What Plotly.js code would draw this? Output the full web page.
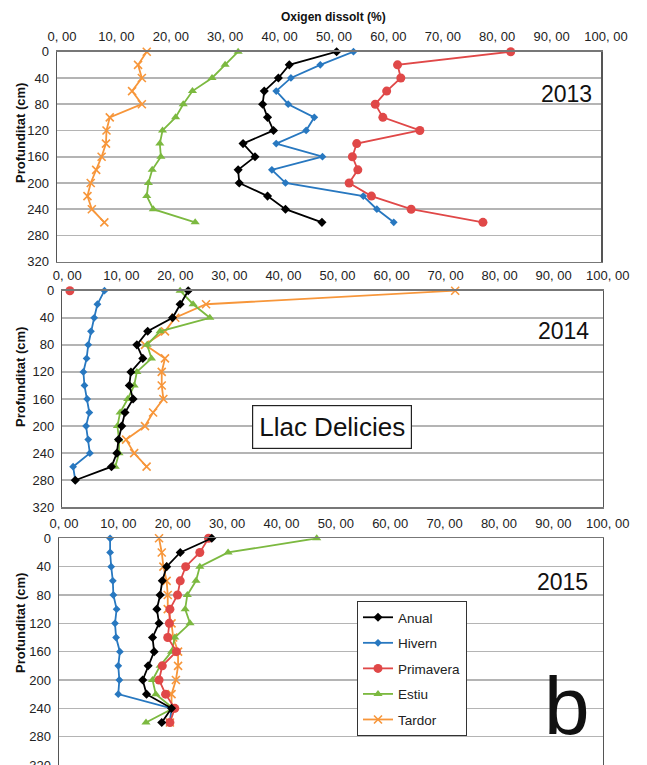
<!DOCTYPE html>
<html><head><meta charset="utf-8">
<script src="https://cdn.plot.ly/plotly-3.0.1.min.js"></script>
<style>html,body{margin:0;padding:0;background:#fff}</style>
</head><body><div id="chart" style="width:647px;height:765px"></div>
<script>
// ---------- DATA ----------
const seriesNames = ["Anual", "Hivern", "Primavera", "Estiu", "Tardor"];
const depth14 = [0,20,40,60,80,100,120,140,160,180,200,220,240,260];
const depth15 = [0,20,40,60,80,100,120,140,160,180,200,220,240,260,280];
const depth1 = [0];
const xTickVals = [0,10,20,30,40,50,60,70,80,90,100];
const xTickText = ["0, 00","10, 00","20, 00","30, 00","40, 00","50, 00","60, 00","70, 00","80, 00","90, 00","100, 00"];
const yTickVals = [0,40,80,120,160,200,240,280,320];
const yTickText = ["0","40","80","120","160","200","240","280","320"];

// 2013
const anual2013     = [51.4,42.7,40.7,38.1,37.8,38.7,39.8,34.2,36.4,33.3,33.5,38.7,42.0,48.7];
const hivern2013    = [54.5,48.4,43.0,40.3,42.5,47.3,45.8,40.3,48.8,39.5,42.0,56.3,58.8,61.9];
const primavera2013 = [83.4,62.6,63.2,60.6,58.5,59.9,66.7,55.1,54.3,55.3,53.7,57.8,65.1,78.3];
const estiu2013     = [33.3,30.9,28.5,24.9,23.2,21.8,19.4,18.9,19.1,17.5,16.8,16.5,17.7,25.4];
const tardor2013    = [16.5,14.9,15.6,13.8,15.6,9.7,9.1,9.0,8.2,7.2,6.2,5.6,6.4,8.7];

// 2014
const anual2014     = [23.3,21.8,20.4,15.8,13.8,14.9,12.7,12.4,13.1,11.6,11.0,10.4,10.1,9.1,2.4];
const hivern2014    = [7.8,6.5,5.9,5.3,4.8,4.5,3.9,4.1,4.6,5.0,4.4,4.8,5.1,2.0,2.4];
const primavera2014 = [1.4];
const estiu2014     = [21.8,24.2,27.3,18.1,15.7,16.5,13.8,13.3,12.1,10.7,10.2,10.5,10.5,9.8];
const tardor2014    = [72.7,26.6,20.9,19.0,15.3,19.0,18.4,18.4,18.7,16.8,15.3,11.8,13.3,15.6];

// 2015
const anual2015     = [28.1,22.3,19.8,19.0,18.6,18.0,18.4,17.2,17.5,16.4,15.4,16.1,20.7,18.9];
const hivern2015    = [9.4,9.4,9.6,9.9,10.0,10.6,10.3,10.5,11.2,10.9,11.1,10.9,20.7,20.4];
const primavera2015 = [27.5,25.9,23.3,22.3,21.8,20.4,20.3,20.0,21.6,19.0,18.4,19.6,21.3,20.4];
const estiu2015     = [47.4,31.1,25.9,25.2,23.6,23.2,24.1,21.3,20.7,18.6,17.2,17.8,21.0,16.0];
const tardor2015    = [18.4,18.9,19.2,19.8,20.0,20.0,20.7,21.0,21.9,21.9,21.5,20.7,20.7,20.4];

// ---------- STYLE ----------
const W = 647, H = 765;
const px = v => v / W;
const py = v => 1 - v / H;
const FONT = "'Liberation Sans', Arial, Helvetica, sans-serif";

const styles = {
  "Anual":     {color:"#000000", symbol:"diamond",      size:7, lw:1.8},
  "Hivern":    {color:"#2878c0", symbol:"diamond",      size:6, lw:1.8},
  "Primavera": {color:"#e04848", symbol:"circle",       size:9, lw:1.8},
  "Estiu":     {color:"#7cb940", symbol:"triangle-up",  size:8, lw:1.8},
  "Tardor":    {color:"#f7963a", symbol:"x-thin-open",  size:8, lw:1.8}
};

function mk(name, xs, ys, axIdx, showLegend, mode) {
  const s = styles[name];
  const suffix = axIdx === 1 ? "" : String(axIdx);
  return {
    type: "scatter",
    mode: mode || "lines+markers",
    name: name,
    legendgroup: name,
    showlegend: showLegend,
    x: xs, y: ys,
    xaxis: "x" + suffix, yaxis: "y" + suffix,
    line: {color: s.color, width: s.lw},
    marker: {color: s.color, symbol: s.symbol, size: s.size,
             line: {color: s.color, width: s.symbol === "x-thin-open" ? 1.6 : 0}},
    cliponaxis: false
  };
}

const traces = [
  mk("Anual", anual2013, depth14, 1, false),
  mk("Hivern", hivern2013, depth14, 1, false),
  mk("Primavera", primavera2013, depth14, 1, false),
  mk("Estiu", estiu2013, depth14, 1, false),
  mk("Tardor", tardor2013, depth14, 1, false),

  mk("Tardor", tardor2014, depth14, 2, false),
  mk("Estiu", estiu2014, depth14, 2, false),
  mk("Primavera", primavera2014, depth1, 2, false, "markers"),
  mk("Hivern", hivern2014, depth15, 2, false),
  mk("Anual", anual2014, depth15, 2, false),

  mk("Tardor", tardor2015, depth14, 3, false),
  mk("Estiu", estiu2015, depth14, 3, false),
  mk("Hivern", hivern2015, depth14, 3, false),
  mk("Primavera", primavera2015, depth14, 3, false),
  mk("Anual", anual2015, depth14, 3, false)
];
const legendOrder = {"Anual":1,"Hivern":2,"Primavera":3,"Estiu":4,"Tardor":5};
traces.slice(10).forEach(t => { t.showlegend = true; t.legendrank = legendOrder[t.name]; });

function xaxisDef(l, r, anchor) {
  return {
    domain: [px(l), px(r)], anchor: anchor, side: "top",
    range: [0, 100], tickmode: "array", tickvals: xTickVals, ticktext: xTickText,
    ticks: "outside", ticklen: 4, tickcolor: "rgba(0,0,0,0)", ticklabelshift: 5,
    showgrid: false, zeroline: false,
    showline: true, linecolor: "#777", linewidth: 1.5, mirror: true,
    tickfont: {family: FONT, size: 13, color: "#222"}, fixedrange: true
  };
}
function yaxisDef(top, bottom, anchor) {
  return {
    domain: [py(bottom), py(top)], anchor: anchor,
    range: [320, 0], tickmode: "array", tickvals: yTickVals, ticktext: yTickText,
    ticks: "outside", ticklen: 4, tickcolor: "rgba(0,0,0,0)", ticklabeloverflow: "allow",
    showgrid: true, gridcolor: "#b4b4b4", gridwidth: 1.6, zeroline: false,
    showline: true, linecolor: "#555", linewidth: 1.5, mirror: true,
    tickfont: {family: FONT, size: 13, color: "#222"}, fixedrange: true
  };
}

const ann = (text, x, y, size, extra) => Object.assign({
  text: text, x: px(x), y: py(y), xref: "paper", yref: "paper",
  showarrow: false, xanchor: "center", yanchor: "middle",
  font: {family: FONT, size: size, color: "#111"}
}, extra || {});

const layout = {
  width: W, height: H,
  margin: {l: 0, r: 0, t: 0, b: 0},
  paper_bgcolor: "#fff", plot_bgcolor: "#fff",
  showlegend: true,
  xaxis: xaxisDef(57, 601, "y"),
  yaxis: yaxisDef(51.7, 261.7, "x"),
  xaxis2: xaxisDef(62.3, 602.7, "y2"),
  yaxis2: yaxisDef(290.7, 507.3, "x2"),
  xaxis3: xaxisDef(59, 602.7, "y3"),
  yaxis3: yaxisDef(538.3, 765, "x3"),
  legend: {
    x: px(357), y: py(601), xanchor: "left", yanchor: "top",
    bgcolor: "#fff", bordercolor: "#333", borderwidth: 1,
    font: {family: FONT, size: 13.5, color: "#222"},
    traceorder: "grouped", tracegroupgap: 5, itemwidth: 30
  },
  annotations: [
    ann("<b>Oxigen dissolt (%)</b>", 333, 17, 12),
    ann("<b>Profunditat (cm)</b>", 20, 133, 13, {textangle: -90}),
    ann("<b>Profunditat (cm)</b>", 20, 377, 13, {textangle: -90}),
    ann("<b>Profunditat (cm)</b>", 20, 623, 13, {textangle: -90}),
    ann("2013", 566, 94, 23),
    ann("2014", 563, 331, 23),
    ann("2015", 562, 582, 23),
    ann("Llac Delicies", 332, 427, 26, {bordercolor: "#222", borderwidth: 1.2, borderpad: 6, bgcolor: "#fff"}),
    ann("b", 567, 705, 82)
  ]
};

Plotly.newPlot("chart", traces, layout, {staticPlot: true, displayModeBar: false});
</script>
</body></html>
